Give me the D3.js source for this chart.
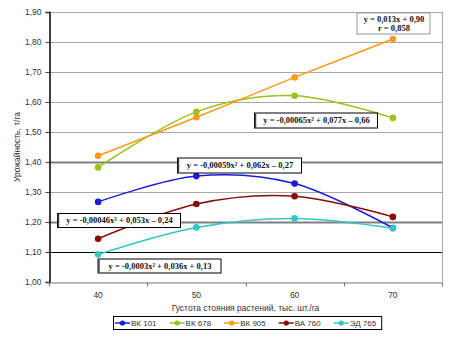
<!DOCTYPE html>
<html><head><meta charset="utf-8">
<script src="https://cdn.jsdelivr.net/npm/d3@7"></script>
<style>body{margin:0;background:#fff}svg{display:block}</style>
</head><body>
<svg id="c" width="449" height="346"></svg>
<script>
const categories = ["40","50","60","70"];
const seriesNames = ["ВК 101","ВК 678","ВК 905","ВА 760","ЭД 765"];
const bk101 = [1.267, 1.353, 1.328, 1.180];
const bk678 = [1.382, 1.567, 1.621, 1.547];
const bk905 = [1.421, 1.549, 1.682, 1.810];
const ba760 = [1.144, 1.260, 1.286, 1.217];
const ed765 = [1.092, 1.182, 1.212, 1.179];
const yTicks = [1.00,1.10,1.20,1.30,1.40,1.50,1.60,1.70,1.80,1.90];
const colors = ["#1c1cd8","#99c21a","#ff9a1a","#8b0a0a","#33c6c6"];
const eqTexts = [
  ["y = 0,013x + 0,90", "r = 0,858"],
  ["y = -0,00065x² + 0,077x – 0,66"],
  ["y = -0,00059x² + 0,062x – 0,27"],
  ["y = -0,00046x² + 0,053x – 0,24"],
  ["y = -0,0003x² + 0,036x + 0,13"]
];
const yTitle = "Урожайность, т/га";
const xTitle = "Густота стояния растений, тыс. шт./га";

const allSeries = [bk101, bk678, bk905, ba760, ed765];
const svg = d3.select("#c");
const L = 49, R = 442, T = 12, B = 282;
const x = d3.scaleBand().domain(categories).range([L, R]);
const y = d3.scaleLinear().domain([1.0, 1.9]).range([B, T]);
const cx = d => x(d) + x.bandwidth()/2;
const fmt = v => v.toFixed(2).replace(".", ",");

// gridlines
const g = svg.append("g");
yTicks.forEach(v => {
  if (v === 1.0) return;
  let stroke = "#a8a8a8", w = 1;
  if (Math.abs(v-1.4) < 1e-6 || Math.abs(v-1.2) < 1e-6) { stroke = "#808080"; w = 2; }
  if (Math.abs(v-1.1) < 1e-6) { stroke = "#000"; w = 1.2; }
  g.append("line").attr("x1", L).attr("x2", R).attr("y1", Math.round(y(v))+0.5).attr("y2", Math.round(y(v))+0.5)
    .attr("stroke", stroke).attr("stroke-width", w);
});
// right border
svg.append("line").attr("x1", R+0.5).attr("x2", R+0.5).attr("y1", T).attr("y2", B).attr("stroke", "#a8a8a8");

// axes
const yAxis = d3.axisLeft(y).tickValues(yTicks).tickFormat(fmt).tickSize(4).tickPadding(4);
const ya = svg.append("g").attr("transform", `translate(${L+0.5},0)`).call(yAxis);
ya.select(".domain").attr("stroke", "#000").attr("stroke-width", 1.5);
ya.selectAll(".tick line").attr("stroke", "#444");
ya.selectAll("text").attr("font-family", "Liberation Sans, Arial, sans-serif").attr("font-size", 8.5).attr("fill", "#333");

const xAxis = d3.axisBottom(x).tickSize(0).tickPadding(9);
const xa = svg.append("g").attr("transform", `translate(0,${B+0.5})`).call(xAxis);
xa.select(".domain").attr("stroke", "#777");
xa.selectAll("text").attr("font-family", "Liberation Sans, Arial, sans-serif").attr("font-size", 8.5).attr("fill", "#333");
// category boundary ticks
const bounds = categories.map(c => x(c)).concat([R]);
xa.selectAll(".bt").data(bounds).enter().append("line")
  .attr("x1", d => Math.round(d)+0.5).attr("x2", d => Math.round(d)+0.5).attr("y1", 0).attr("y2", 4).attr("stroke", "#777");

// titles
svg.append("text").attr("transform", `translate(20,${(T+B)/2}) rotate(-90)`).attr("text-anchor", "middle")
  .attr("font-family", "Liberation Sans, Arial, sans-serif").attr("font-size", 8.5).attr("fill", "#333").text(yTitle);
svg.append("text").attr("x", (L+R)/2).attr("y", 311).attr("text-anchor", "middle")
  .attr("font-family", "Liberation Sans, Arial, sans-serif").attr("font-size", 8.5).attr("fill", "#333").text(xTitle);

// series
const line = d3.line().x((d,i) => cx(categories[i])).y(d => y(d)).curve(d3.curveCardinal.tension(0));
allSeries.forEach((s, k) => {
  svg.append("path").datum(s).attr("d", line).attr("fill", "none").attr("stroke", colors[k]).attr("stroke-width", 1.5);
  svg.selectAll(null).data(s).enter().append("circle")
    .attr("cx", (d,i) => cx(categories[i])).attr("cy", d => y(d)).attr("r", 3.3).attr("fill", colors[k]);
});

// equation boxes (centres)
const boxes = [
  {cx: 393, cy: 23, w: 73, h: 21, stroke: "#999"},
  {cx: 315.5, cy: 120, w: 123, h: 15, stroke: "#000"},
  {cx: 239, cy: 165, w: 124, h: 15, stroke: "#000"},
  {cx: 118.5, cy: 220, w: 123, h: 14, stroke: "#000"},
  {cx: 159, cy: 265.5, w: 123, h: 14, stroke: "#000"}
];
boxes.forEach((b, i) => {
  const bg = svg.append("g");
  bg.append("rect").attr("x", b.cx - b.w/2 + 0.5).attr("y", b.cy - b.h/2 + 0.5).attr("width", b.w).attr("height", b.h)
    .attr("fill", "#fff").attr("stroke", b.stroke).attr("stroke-width", 1);
  if (i > 0) {
    bg.append("line").attr("x1", b.cx - b.w/2 + 1.5).attr("x2", b.cx - b.w/2 + 1.5).attr("y1", b.cy - b.h/2 + 1).attr("y2", b.cy + b.h/2)
      .attr("stroke", "#444").attr("stroke-width", 1.5);
  }
  const lines = eqTexts[i];
  lines.forEach((t, j) => {
    const ty = b.cy + 3 + (j - (lines.length-1)/2) * 9;
    bg.append("text").attr("x", b.cx + 1).attr("y", ty).attr("text-anchor", "middle")
      .attr("font-family", "Liberation Serif, Times New Roman, serif").attr("font-weight", "bold")
      .attr("font-size", 8.5).attr("fill", "#111").text(t);
  });
});

// legend
const lg = svg.append("g");
const lx0 = 113, ly = 323;
let cur = lx0 + 2;
seriesNames.forEach((n, k) => {
  const it = lg.append("g");
  it.append("line").attr("x1", cur).attr("x2", cur + 15).attr("y1", ly).attr("y2", ly).attr("stroke", colors[k]).attr("stroke-width", 1.5);
  it.append("circle").attr("cx", cur + 7.5).attr("cy", ly).attr("r", 2.6).attr("fill", colors[k]);
  const tx = it.append("text").attr("x", cur + 16).attr("y", ly + 3).attr("font-family", "Liberation Sans, Arial, sans-serif")
    .attr("font-size", 8).attr("fill", "#333").text(n);
  cur += 16 + tx.node().getComputedTextLength() + 13;
});
lg.insert("rect", ":first-child").attr("x", lx0 + 0.5).attr("y", 316.5).attr("width", cur - 13 + 5 - lx0).attr("height", 13)
  .attr("fill", "#fff").attr("stroke", "#000");
</script>
</body></html>
